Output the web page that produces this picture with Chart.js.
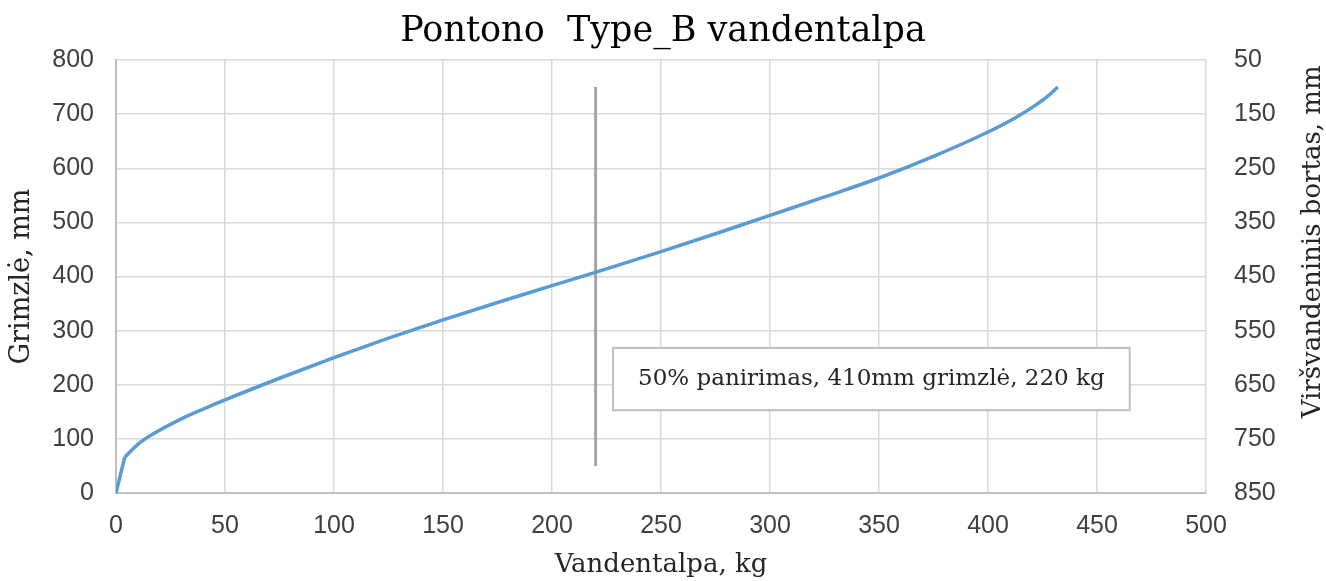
<!DOCTYPE html>
<html>
<head>
<meta charset="utf-8">
<script src="https://cdn.jsdelivr.net/npm/chart.js@4/dist/chart.umd.min.js"></script>
<style>
  body { margin: 0; background: #fff; }
</style>
</head>
<body>
<canvas id="grafico" width="1326" height="581"></canvas>
<script>
// duomenys nuskaityti nuo paveikslo
const vandentalpa = [0, 4, 10, 20, 30, 40, 50, 75, 100, 125, 150, 175, 200, 225, 250, 275, 300, 325, 350, 375, 400, 412, 422, 428, 432];
const grimzle = [0, 66, 90, 116, 137, 155, 172, 212, 250, 286, 320, 352, 383, 414, 446, 479, 513, 547, 582, 622, 667, 692, 717, 735, 750];

const linijaX = [220, 220];
const linijaY = [50, 750];

const xTicks = [0, 50, 100, 150, 200, 250, 300, 350, 400, 450, 500];
const yTicks = [0, 100, 200, 300, 400, 500, 600, 700, 800];
const y2Ticks = [50, 150, 250, 350, 450, 550, 650, 750, 850];

const pavadinimas = 'Pontono  Type_B vandentalpa';
const xPavadinimas = 'Vandentalpa, kg';
const yPavadinimas = 'Grimzlė, mm';
const y2Pavadinimas = 'Viršvandeninis bortas, mm';
const uzrasas = '50% panirimas, 410mm grimzlė, 220 kg';

const serif = "'DejaVu Serif', 'Liberation Serif', serif";
const sans = "'Liberation Sans', Arial, sans-serif";

const taskai = vandentalpa.map((v, i) => ({ x: v, y: grimzle[i] }));

// uzraso dezute + desines asies pavadinimas
const uzrasoPlugin = {
    id: 'uzrasas',
    afterDraw(chart) {
        const ctx = chart.ctx;
        const x = chart.scales.x, y = chart.scales.y;
        const x1 = x.getPixelForValue(228), x2 = x.getPixelForValue(465);
        const y1 = y.getPixelForValue(268), y2 = y.getPixelForValue(153);
        ctx.save();
        ctx.fillStyle = '#fff';
        ctx.fillRect(x1, y1, x2 - x1, y2 - y1);
        ctx.strokeStyle = '#bfbfbf';
        ctx.lineWidth = 2;
        ctx.strokeRect(x1, y1, x2 - x1, y2 - y1);
        ctx.fillStyle = '#262626';
        ctx.font = '23px ' + serif;
        ctx.textAlign = 'center';
        ctx.textBaseline = 'middle';
        ctx.fillText(uzrasas, (x1 + x2) / 2, (y1 + y2) / 2);

        // desine asis, skaitoma is apacios i virsu
        const a = chart.chartArea;
        ctx.translate(1313, a.top + (a.bottom - a.top) * 0.42);
        ctx.rotate(-Math.PI / 2);
        ctx.font = '26px ' + serif;
        ctx.fillText(y2Pavadinimas, 0, 0);
        ctx.restore();
    }
};

const ctx = document.getElementById('grafico');

new Chart(ctx, {
    type: 'line',
    data: {
        datasets: [{
            // pradzia - tiesi atkarpa
            data: taskai.slice(0, 2),
            borderColor: '#5b9bd5',
            borderWidth: 3.5,
            pointRadius: 0,
            tension: 0,
            order: 1
        }, {
            data: taskai.slice(1),
            borderColor: '#5b9bd5',
            borderWidth: 3.5,
            pointRadius: 0,
            cubicInterpolationMode: 'monotone',
            order: 1
        }, {
            data: linijaX.map((v, i) => ({ x: v, y: linijaY[i] })),
            borderColor: '#a5a5a5',
            borderWidth: 3,
            pointRadius: 0,
            order: 2
        }]
    },
    options: {
        responsive: false,
        animation: false,
        layout: { padding: 0 },
        plugins: {
            legend: { display: false },
            tooltip: { enabled: false },
            title: {
                display: true,
                text: pavadinimas,
                font: { family: serif, size: 35, weight: 'normal' },
                color: '#000',
                padding: { top: 11, bottom: 7 }
            }
        },
        scales: {
            x: {
                type: 'linear',
                min: 0, max: 500,
                afterBuildTicks: s => { s.ticks = xTicks.map(v => ({ value: v })); },
                afterFit: s => { s.height = 88; },
                ticks: { font: { family: sans, size: 25 }, color: '#404040', padding: 18, maxRotation: 0 },
                grid: { color: '#d9d9d9', lineWidth: 1.5, drawTicks: false },
                border: { color: '#bfbfbf', width: 2 },
                title: { display: true, text: xPavadinimas, font: { family: serif, size: 26 }, color: '#262626', padding: 0 }
            },
            y: {
                type: 'linear',
                position: 'left',
                min: 0, max: 800,
                afterBuildTicks: s => { s.ticks = yTicks.map(v => ({ value: v })); },
                afterFit: s => { s.width = 116; },
                ticks: { font: { family: sans, size: 25 }, color: '#404040', padding: 22 },
                grid: { color: '#d9d9d9', lineWidth: 1.5, drawTicks: false },
                border: { color: '#bfbfbf', width: 2 },
                title: { display: true, text: yPavadinimas, font: { family: serif, size: 27 }, color: '#262626', padding: { top: 6, bottom: 0 } }
            },
            y2: {
                type: 'linear',
                position: 'right',
                min: 50, max: 850,
                reverse: true,
                afterBuildTicks: s => { s.ticks = y2Ticks.map(v => ({ value: v })); },
                afterFit: s => { s.width = 120; },
                ticks: { font: { family: sans, size: 25 }, color: '#404040', padding: 28 },
                grid: { display: false, drawTicks: false },
                border: { display: false }
            }
        }
    },
    plugins: [uzrasoPlugin]
});
</script>
</body>
</html>
